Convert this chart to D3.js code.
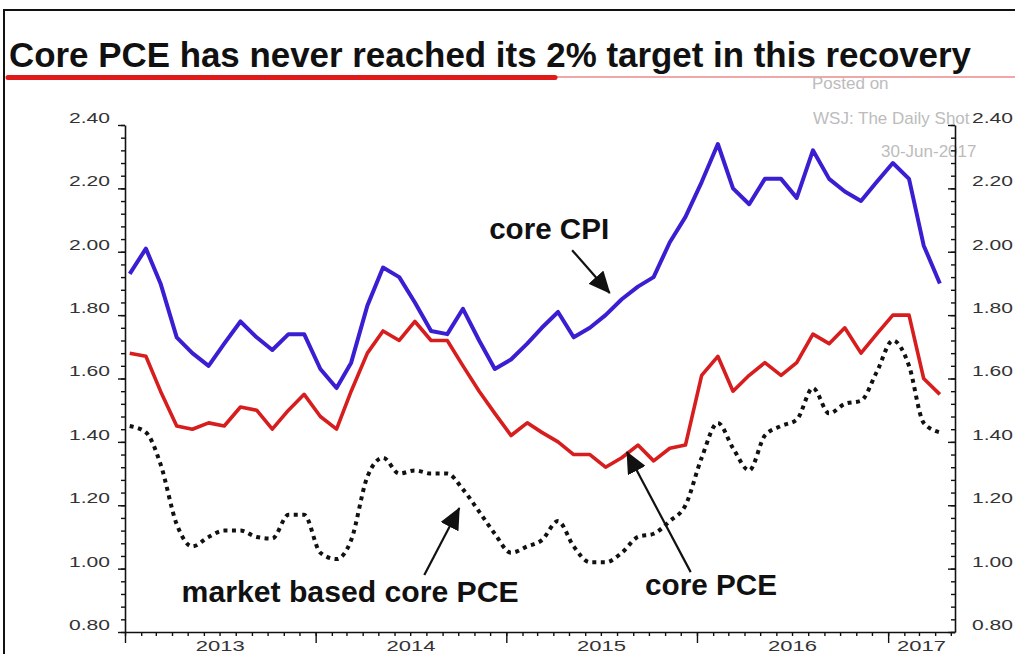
<!DOCTYPE html>
<html><head><meta charset="utf-8">
<script src="https://cdn.jsdelivr.net/npm/d3@7"></script>
<style>body{margin:0;background:#fff} svg{display:block}</style>
</head><body><svg id="c" width="1015" height="654"></svg>
<script>
// ---------------- data ----------------
const titleText = "Core PCE has never reached its 2% target in this recovery";
const firstMonth = "2013-01";
const lastMonth = "2017-04";
const coreCPI = [1.93,2.01,1.90,1.73,1.68,1.64,1.71,1.78,1.73,1.69,1.74,1.74,
                 1.63,1.57,1.65,1.83,1.95,1.92,1.84,1.75,1.74,1.82,1.72,1.63,
                 1.66,1.71,1.76,1.81,1.73,1.76,1.80,1.85,1.89,1.92,2.03,2.11,
                 2.22,2.34,2.20,2.15,2.23,2.23,2.17,2.32,2.23,2.19,2.16,2.22,
                 2.28,2.23,2.02,1.90];
const corePCE = [1.68,1.67,1.56,1.45,1.44,1.46,1.45,1.51,1.50,1.44,1.50,1.55,
                 1.48,1.44,1.56,1.68,1.75,1.72,1.78,1.72,1.72,1.64,1.56,1.49,
                 1.42,1.46,1.43,1.40,1.36,1.36,1.32,1.35,1.39,1.34,1.38,1.39,
                 1.61,1.67,1.56,1.61,1.65,1.61,1.65,1.74,1.71,1.76,1.68,1.74,
                 1.80,1.80,1.60,1.55];
const marketPCE = [1.45,1.43,1.33,1.14,1.07,1.10,1.12,1.12,1.10,1.095,1.17,1.17,
                   1.05,1.03,1.09,1.29,1.35,1.30,1.31,1.30,1.30,1.25,1.18,1.11,
                   1.05,1.07,1.09,1.15,1.07,1.02,1.02,1.05,1.10,1.11,1.15,1.20,
                   1.35,1.46,1.38,1.31,1.42,1.45,1.47,1.57,1.49,1.52,1.53,1.62,
                   1.72,1.64,1.46,1.43];
const yMajorTicks = [0.80,1.00,1.20,1.40,1.60,1.80,2.00,2.20,2.40];
const yearLabels = ["2013","2014","2015","2016","2017"];
const xDomain = ["2013-01-01","2017-05-09"];
const yDomain = [0.80, 2.40];
const watermark = ["Posted on","WSJ: The Daily Shot","30-Jun-2017"];
const annotations = [
  {text:"core CPI", label:["2015-03-24",2.04], from:["2015-05-07",2.005], to:["2015-07-18",1.87], len:120},
  {text:"market based core PCE", label:["2014-03-08",0.895], from:["2014-07-28",0.98], to:["2014-10-03",1.191], len:337},
  {text:"core PCE", label:["2016-01-28",0.917], from:["2015-12-20",0.989], to:["2015-08-20",1.368], len:132}
];

// ---------------- chart ----------------
const svg = d3.select("#c");
const W = 1015, H = 654;
const plot = {left:125, right:955, top:125, bottom:632};
const parseDay = d3.timeParse("%Y-%m-%d");
const parseMonth = d3.timeParse("%Y-%m");
const months = d3.timeMonth.range(parseMonth(firstMonth), d3.timeMonth.offset(parseMonth(lastMonth),1));
const pointDate = m => d3.timeDay.offset(m, 9);

const x = d3.scaleTime().domain(xDomain.map(parseDay)).range([plot.left, plot.right]);
const y = d3.scaleLinear().domain(yDomain).range([plot.bottom, plot.top]);

svg.append("rect").attr("width",W).attr("height",H).attr("fill","#fff");

// frame lines (top / left border of the picture)
svg.append("path").attr("d", `M4,${H} V10 H${W}`).attr("fill","none").attr("stroke","#111").attr("stroke-width",2);

// title
svg.append("text").attr("x",9).attr("y",67)
  .attr("font-family","Liberation Sans, Arial, sans-serif").attr("font-weight","bold")
  .attr("font-size",35).attr("textLength",962).attr("lengthAdjust","spacingAndGlyphs")
  .attr("fill","#111").text(titleText);
// underline
svg.append("line").attr("x1",287).attr("x2",W).attr("y1",77).attr("y2",77)
  .attr("stroke","#e05050").attr("stroke-width",1.2);
svg.append("line").attr("x1",8).attr("x2",555).attr("y1",77.5).attr("y2",77.5)
  .attr("stroke","#e01a1a").attr("stroke-width",5).attr("stroke-linecap","round");

// watermark
const wm = svg.append("g").attr("font-family","Liberation Sans, Arial, sans-serif")
  .attr("font-size",17).attr("fill","#bcbcbc");
wm.append("text").attr("x",812).attr("y",89).text(watermark[0]);
wm.append("text").attr("x",813).attr("y",124).text(watermark[1]);
wm.append("text").attr("x",881).attr("y",157).text(watermark[2]);

// axes
const minorY = d3.range(0, 41).map(i => 0.8 + i*0.04);
const axisFont = "Liberation Sans, Arial, sans-serif";
function styleAxis(g){
  g.selectAll("path.domain").attr("stroke","#111").attr("stroke-width",1.6);
  g.selectAll(".tick line").attr("stroke","#111").attr("stroke-width",1.4);
}
// left
const gl = svg.append("g").attr("transform",`translate(${plot.left},0)`);
gl.call(d3.axisLeft(y).tickValues(minorY).tickSize(4).tickSizeOuter(0).tickFormat("")).call(styleAxis);
const glm = svg.append("g").attr("transform",`translate(${plot.left},0)`);
glm.call(d3.axisLeft(y).tickValues(yMajorTicks).tickSize(7).tickSizeOuter(0).tickPadding(8).tickFormat(d3.format(".2f"))).call(styleAxis);
glm.select("path.domain").remove();
// right
const gr = svg.append("g").attr("transform",`translate(${plot.right},0)`);
gr.call(d3.axisRight(y).tickValues(minorY).tickSize(-4).tickSizeOuter(0).tickFormat("")).call(styleAxis);
const grm = svg.append("g").attr("transform",`translate(${plot.right},0)`);
grm.call(d3.axisRight(y).tickValues(yMajorTicks).tickSize(-7).tickSizeOuter(0).tickPadding(17).tickFormat(d3.format(".2f"))).call(styleAxis);
grm.select("path.domain").remove();
[glm, grm].forEach(g => g.selectAll("text")
  .attr("font-family",axisFont).attr("font-size",15).attr("fill","#333")
  .attr("dy","-0.17em").attr("textLength",41).attr("lengthAdjust","spacingAndGlyphs"));
// bottom
const gb = svg.append("g").attr("transform",`translate(0,${plot.bottom})`);
gb.call(d3.axisBottom(x).ticks(d3.timeMonth.every(1)).tickSize(4).tickSizeOuter(0).tickFormat("")).call(styleAxis);
const gby = svg.append("g").attr("transform",`translate(0,${plot.bottom})`);
gby.call(d3.axisBottom(x).ticks(d3.timeYear.every(1)).tickSize(11).tickSizeOuter(0).tickFormat("")).call(styleAxis);
gby.select("path.domain").remove();
// year labels centred in the visible part of each year
const xd = x.domain();
yearLabels.forEach(yr => {
  const a = new Date(+yr,0,1), b = new Date(+yr+1,0,1);
  const s = a < xd[0] ? xd[0] : a, e = b > xd[1] ? xd[1] : b;
  svg.append("text").attr("x",(x(s)+x(e))/2).attr("y",651)
    .attr("text-anchor","middle").attr("font-family",axisFont).attr("font-size",15)
    .attr("fill","#333").attr("textLength",49).attr("lengthAdjust","spacingAndGlyphs").text(yr);
});

// series
const xPos = (d,i) => x(pointDate(months[i]));
svg.append("path")
  .attr("d", d3.line().x(xPos).y(d=>y(d)).curve(d3.curveMonotoneX)(marketPCE))
  .attr("fill","none").attr("stroke","#111").attr("stroke-width",4)
  .attr("stroke-dasharray","4,4.5");
svg.append("path")
  .attr("d", d3.line().x(xPos).y(d=>y(d))(corePCE))
  .attr("fill","none").attr("stroke","#d71d1d").attr("stroke-width",3.6)
  .attr("stroke-linejoin","round");
svg.append("path")
  .attr("d", d3.line().x(xPos).y(d=>y(d))(coreCPI))
  .attr("fill","none").attr("stroke","#3a1ed2").attr("stroke-width",4)
  .attr("stroke-linejoin","round");

// annotations
svg.append("defs").append("marker").attr("id","ah")
  .attr("viewBox","0 0 22 20").attr("refX",21).attr("refY",10)
  .attr("markerWidth",22).attr("markerHeight",20).attr("markerUnits","userSpaceOnUse")
  .attr("orient","auto")
  .append("path").attr("d","M0,0 L22,10 L0,20 Z").attr("fill","#111");
const P = p => [x(parseDay(p[0])), y(p[1])];
annotations.forEach(a => {
  const f = P(a.from), t = P(a.to), l = P(a.label);
  svg.append("line").attr("x1",f[0]).attr("y1",f[1]).attr("x2",t[0]).attr("y2",t[1])
    .attr("stroke","#111").attr("stroke-width",2.2).attr("marker-end","url(#ah)");
  svg.append("text").attr("x",l[0]).attr("y",l[1]).attr("text-anchor","middle")
    .attr("font-family","Liberation Sans, Arial, sans-serif").attr("font-weight","bold")
    .attr("font-size",29).attr("textLength",a.len).attr("lengthAdjust","spacingAndGlyphs")
    .attr("fill","#111").text(a.text);
});
</script></body></html>
